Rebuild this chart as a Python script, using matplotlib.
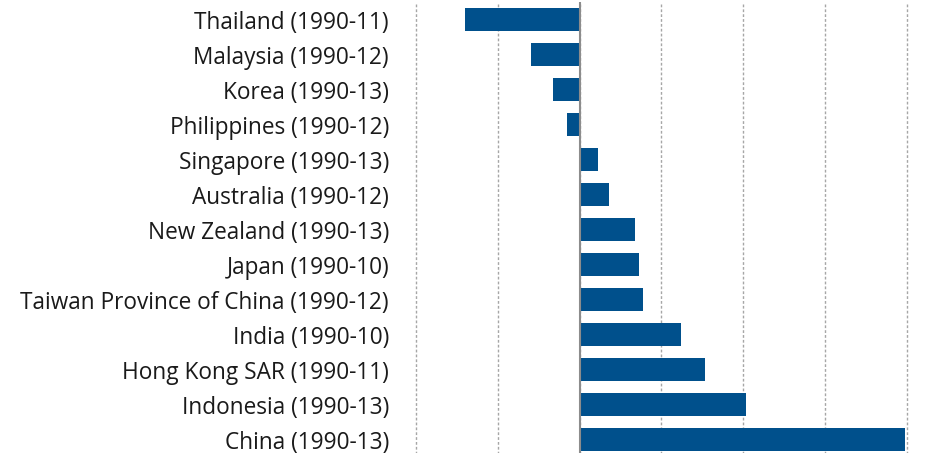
import matplotlib
matplotlib.use("Agg")
import matplotlib.pyplot as plt
import numpy as np

countries = ["Thailand (1990-11)", "Malaysia (1990-12)", "Korea (1990-13)",
             "Philippines (1990-12)", "Singapore (1990-13)", "Australia (1990-12)",
             "New Zealand (1990-13)", "Japan (1990-10)",
             "Taiwan Province of China (1990-12)", "India (1990-10)",
             "Hong Kong SAR (1990-11)", "Indonesia (1990-13)", "China (1990-13)"]
values = [-1.40, -0.59, -0.33, -0.15, 0.22, 0.36, 0.68, 0.72, 0.77, 1.24, 1.53, 2.03, 3.97]
grid_ticks = [-2, -1, 0, 1, 2, 3, 4]

plt.rcParams['font.family'] = ['Open Sans', 'DejaVu Sans']

fig = plt.figure(figsize=(9.27, 4.53), dpi=100)
ax = fig.add_axes([0.4443, -0.009, 0.5385, 1.0045])

y = np.arange(len(countries))
ax.barh(y, values, height=0.66, color='#00508c', zorder=3)
ax.set_ylim(len(countries) - 0.5, -0.5)
ax.set_xlim(-2.05, 4.05)
ax.set_xticks(grid_ticks)
ax.set_xticklabels([])
ax.tick_params(axis='x', length=0)
ax.xaxis.grid(True, color='#a6a6a6', linestyle=(0, (2, 1.5)), linewidth=1.0, zorder=0)
ax.axvline(0, color='#8c8c8c', linewidth=1.5, zorder=4)
ax.set_yticks(y)
ax.set_yticklabels(countries, fontsize=16.3, color='#1a1a1a')
ax.tick_params(axis='y', length=0, pad=16.5)
for s in ax.spines.values():
    s.set_visible(False)

fig.savefig("out.png", dpi=100)
